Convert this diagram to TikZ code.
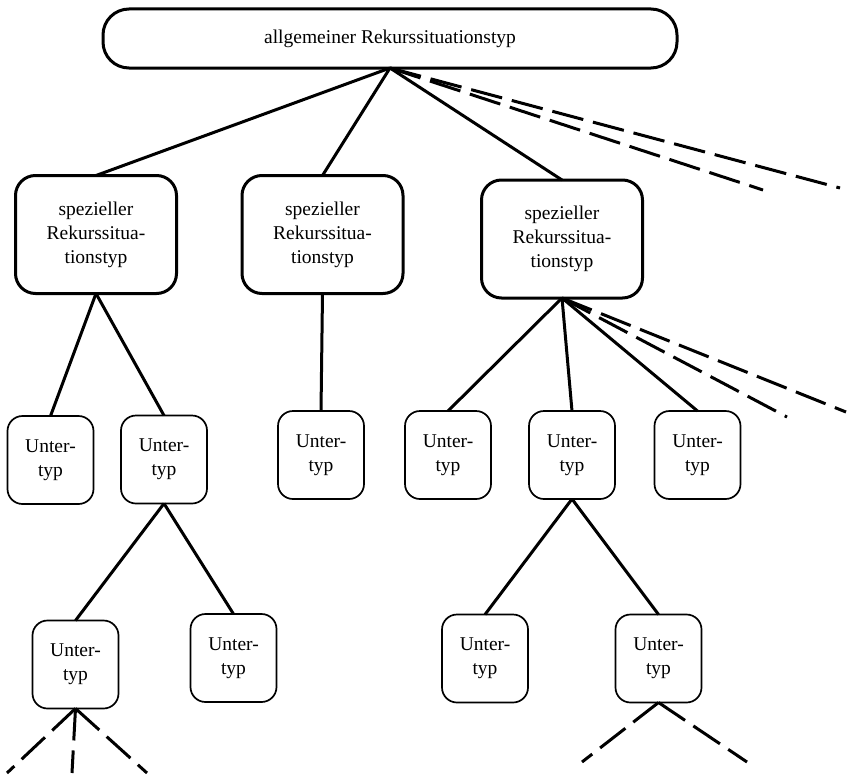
\documentclass[tikz,border=0pt]{standalone}
\usepackage{fontspec}
\setmainfont{Liberation Serif}
\begin{document}
\begin{tikzpicture}[x=1pt,y=-1pt,
  every node/.style={inner sep=0pt, outer sep=0pt, align=center, font=\fontsize{19.5}{24}\selectfont},
  topbox/.style={draw, line width=3pt, rounded corners=26pt, minimum width=574pt, minimum height=59pt},
  specbox/.style={draw, line width=3pt, rounded corners=20pt, minimum width=161pt, minimum height=118pt},
  subbox/.style={draw, line width=1.7pt, rounded corners=15pt, minimum width=86pt, minimum height=88pt},
  link/.style={line width=3pt},
  dlink/.style={line width=3pt, dash pattern=on 32pt off 10pt},
]
\useasboundingbox (0,0) rectangle (848,776);
\node[topbox] (root) at (390,38.5) {allgemeiner Rekurssituationstyp};
\node[specbox] (S1) at (96,234.5) {spezieller\\Rekurssitua-\\tionstyp};
\node[specbox] (S2) at (322.5,234.5) {spezieller\\Rekurssitua-\\tionstyp};
\node[specbox] (S3) at (562,239) {spezieller\\Rekurssitua-\\tionstyp};
\node[subbox] (A) at (50.5,460) {Unter-\\typ};
\node[subbox] (B) at (164,459.5) {Unter-\\typ};
\node[subbox] (C) at (321,455) {Unter-\\typ};
\node[subbox] (D) at (448,455) {Unter-\\typ};
\node[subbox] (E) at (572,455) {Unter-\\typ};
\node[subbox] (F) at (697.5,455) {Unter-\\typ};
\node[subbox] (G) at (75.5,664.5) {Unter-\\typ};
\node[subbox] (H) at (233.5,658) {Unter-\\typ};
\node[subbox] (I) at (485,658.5) {Unter-\\typ};
\node[subbox] (J) at (658.5,658.5) {Unter-\\typ};
\coordinate (r1) at (763,190);
\coordinate (r2) at (840,188);
\coordinate (s1) at (787,417);
\coordinate (s2) at (846,412);
\coordinate (g1) at (7,773);
\coordinate (g2) at (72,773);
\coordinate (g3) at (147,773);
\coordinate (j1) at (582,762);
\coordinate (j2) at (747,762);
\draw[link] (root.south) -- (S1.north);
\draw[link] (root.south) -- (S2.north);
\draw[link] (root.south) -- (S3.north);
\draw[dlink] (root.south) -- (r1);
\draw[dlink] (root.south) -- (r2);
\draw[link] (S1.south) -- (A.north);
\draw[link] (S1.south) -- (B.north);
\draw[link] (S2.south) -- (C.north);
\draw[link] (S3.south) -- (D.north);
\draw[link] (S3.south) -- (E.north);
\draw[link] (S3.south) -- (F.north);
\draw[dlink] (S3.south) -- (s1);
\draw[dlink] (S3.south) -- (s2);
\draw[link] (B.south) -- (G.north);
\draw[link] (B.south) -- (H.north);
\draw[link] (E.south) -- (I.north);
\draw[link] (E.south) -- (J.north);
\draw[dlink] (G.south) -- (g1);
\draw[dlink] (G.south) -- (g2);
\draw[dlink] (G.south) -- (g3);
\draw[dlink] (J.south) -- (j1);
\draw[dlink] (J.south) -- (j2);
\end{tikzpicture}
\end{document}
